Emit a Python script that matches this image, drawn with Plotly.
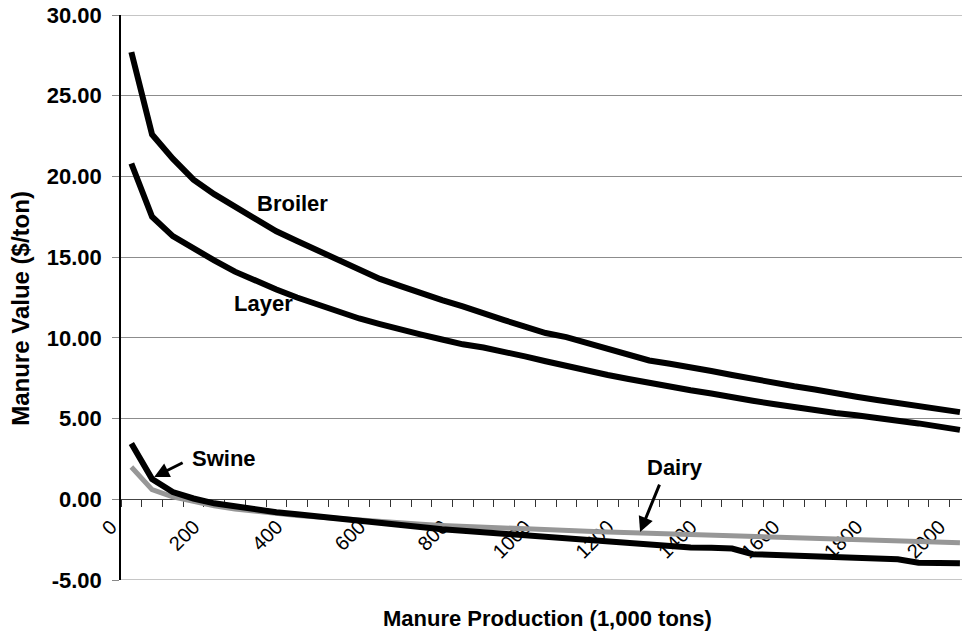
import plotly.graph_objects as go

# manure production (1,000 tons), category centres
production = [25, 75, 125, 175, 225, 275, 325, 375, 425, 475, 525, 575, 625, 675,
              725, 775, 825, 875, 925, 975, 1025, 1075, 1125, 1175, 1225, 1275, 1325,
              1375, 1425, 1475, 1525, 1575, 1625, 1675, 1725, 1775, 1825, 1875, 1925,
              1975, 2025]

broiler = [27.7, 22.6, 21.1, 19.8, 18.9, 18.1, 17.3, 16.6, 16.0, 15.4, 14.85, 14.25,
           13.65, 13.2, 12.75, 12.34, 11.95, 11.5, 11.1, 10.7, 10.3, 10.05, 9.7, 9.35,
           9.0, 8.6, 8.4, 8.2, 7.95, 7.7, 7.45, 7.2, 7.0, 6.8, 6.55, 6.35, 6.15, 5.98,
           5.8, 5.6, 5.4]

layer = [20.8, 17.5, 16.3, 15.5, 14.8, 14.1, 13.5, 13.0, 12.5, 12.05, 11.6, 11.2,
         10.85, 10.5, 10.2, 9.9, 9.6, 9.4, 9.15, 8.85, 8.55, 8.25, 8.0, 7.7, 7.45, 7.2,
         6.95, 6.75, 6.55, 6.3, 6.1, 5.9, 5.7, 5.55, 5.35, 5.2, 5.05, 4.9, 4.7, 4.5, 4.3]

swine = [3.45, 1.25, 0.45, 0.05, -0.25, -0.45, -0.65, -0.8, -0.93, -1.07, -1.22, -1.35,
         -1.48, -1.6, -1.75, -1.85, -1.95, -2.05, -2.12, -2.22, -2.3, -2.4, -2.5, -2.62,
         -2.75, -2.85, -2.95, -2.98, -3.0, -3.05, -3.4, -3.45, -3.5, -3.52, -3.65, -3.67,
         -3.7, -3.72, -3.93, -3.95, -3.97]

dairy = [2.0, 0.6, 0.15, -0.15, -0.4, -0.6, -0.75, -0.9, -1.0, -1.1, -1.2, -1.3, -1.4,
         -1.49, -1.55, -1.62, -1.68, -1.74, -1.8, -1.85, -1.9, -1.95, -1.98, -2.02,
         -2.06, -2.1, -2.13, -2.16, -2.2, -2.25, -2.3, -2.38, -2.42, -2.46, -2.5, -2.54,
         -2.58, -2.62, -2.65, -2.68, -2.7]

y_ticks = [-5, 0, 5, 10, 15, 20, 25, 30]
y_labels = ["-5.00", "0.00", "5.00", "10.00", "15.00", "20.00", "25.00", "30.00"]
x_ticks = [0, 200, 400, 600, 800, 1000, 1200, 1400, 1600, 1800, 2000]

FONT = "Liberation Sans, Arial, sans-serif"

fig = go.Figure()
fig.add_trace(go.Scatter(x=production, y=dairy, mode="lines", name="Dairy",
                         line=dict(color="#979797", width=5)))
fig.add_trace(go.Scatter(x=production, y=swine, mode="lines", name="Swine",
                         line=dict(color="black", width=6)))
fig.add_trace(go.Scatter(x=production, y=layer, mode="lines", name="Layer",
                         line=dict(color="black", width=6)))
fig.add_trace(go.Scatter(x=production, y=broiler, mode="lines", name="Broiler",
                         line=dict(color="black", width=6)))

# frame lines at top and bottom of the value range
for yv in (30, -5):
    fig.add_shape(type="line", xref="paper", x0=0, x1=1, yref="y", y0=yv, y1=yv,
                  line=dict(color="#8c8c8c", width=1), layer="below")

# labels on the curves
for txt, x, y in [("Broiler", 415, 18.35), ("Layer", 343, 12.1),
                  ("Swine", 249, 2.55), ("Dairy", 1338, 2.0)]:
    fig.add_annotation(x=x, y=y, text=f"<b>{txt}</b>", showarrow=False,
                       font=dict(family=FONT, size=22, color="black"))

# arrows
fig.add_annotation(x=80, y=1.38, ax=30, ay=-15, text="", showarrow=True,
                   arrowhead=2, arrowsize=1, arrowwidth=3, arrowcolor="black")
fig.add_annotation(x=1253, y=-2.03, ax=20, ay=-49, text="", showarrow=True,
                   arrowhead=2, arrowsize=1, arrowwidth=3, arrowcolor="black")

# axis titles
fig.add_annotation(x=1030, y=-5, yshift=-38, text="<b>Manure Production (1,000 tons)</b>",
                   showarrow=False, font=dict(family=FONT, size=22, color="black"))
fig.add_annotation(xref="paper", yref="paper", x=0, y=0.48, xshift=-100,
                   xanchor="center", yanchor="middle",
                   textangle=-90, text="<b>Manure Value ($/ton)</b>", showarrow=False,
                   font=dict(family=FONT, size=24, color="black"))

fig.update_layout(
    width=962, height=635,
    margin=dict(l=121, r=0, t=15, b=55, autoexpand=False),
    paper_bgcolor="white", plot_bgcolor="white",
    showlegend=False,
    font=dict(family=FONT, color="black"),
    xaxis=dict(
        range=[0, 2030], anchor="free", position=5 / 35, automargin=False,
        tickmode="array", tickvals=x_ticks, tickangle=-45, ticklabelshift=-10,
        tickfont=dict(family=FONT, size=20, color="black"),
        ticks="outside", ticklen=7, tickcolor="#333333", tickwidth=1,
        minor=dict(dtick=50, tick0=0, ticks="outside", ticklen=7,
                   tickcolor="#333333", showgrid=False),
        showline=True, linecolor="#444444", linewidth=1,
        showgrid=False, zeroline=False, layer="below traces",
        ticklabeloverflow="allow",
    ),
    yaxis=dict(
        range=[-5, 30], tickmode="array", tickvals=y_ticks, ticktext=y_labels,
        automargin=False, ticklabeloverflow="allow",
        tickfont=dict(family=FONT, size=22, color="black", weight="bold"),
        ticks="outside", ticklen=7, tickcolor="#888888",
        ticklabelstandoff=6,
        showline=True, linecolor="black", linewidth=1.5,
        showgrid=True, gridcolor="#8c8c8c", gridwidth=1,
        zeroline=False, layer="below traces",
    ),
)

# drop the browser's default 8px body margin so the figure sits at the page corner
fig.write_html("out.html", config={"displayModeBar": False},
               post_script="document.body.style.margin = '0';")
